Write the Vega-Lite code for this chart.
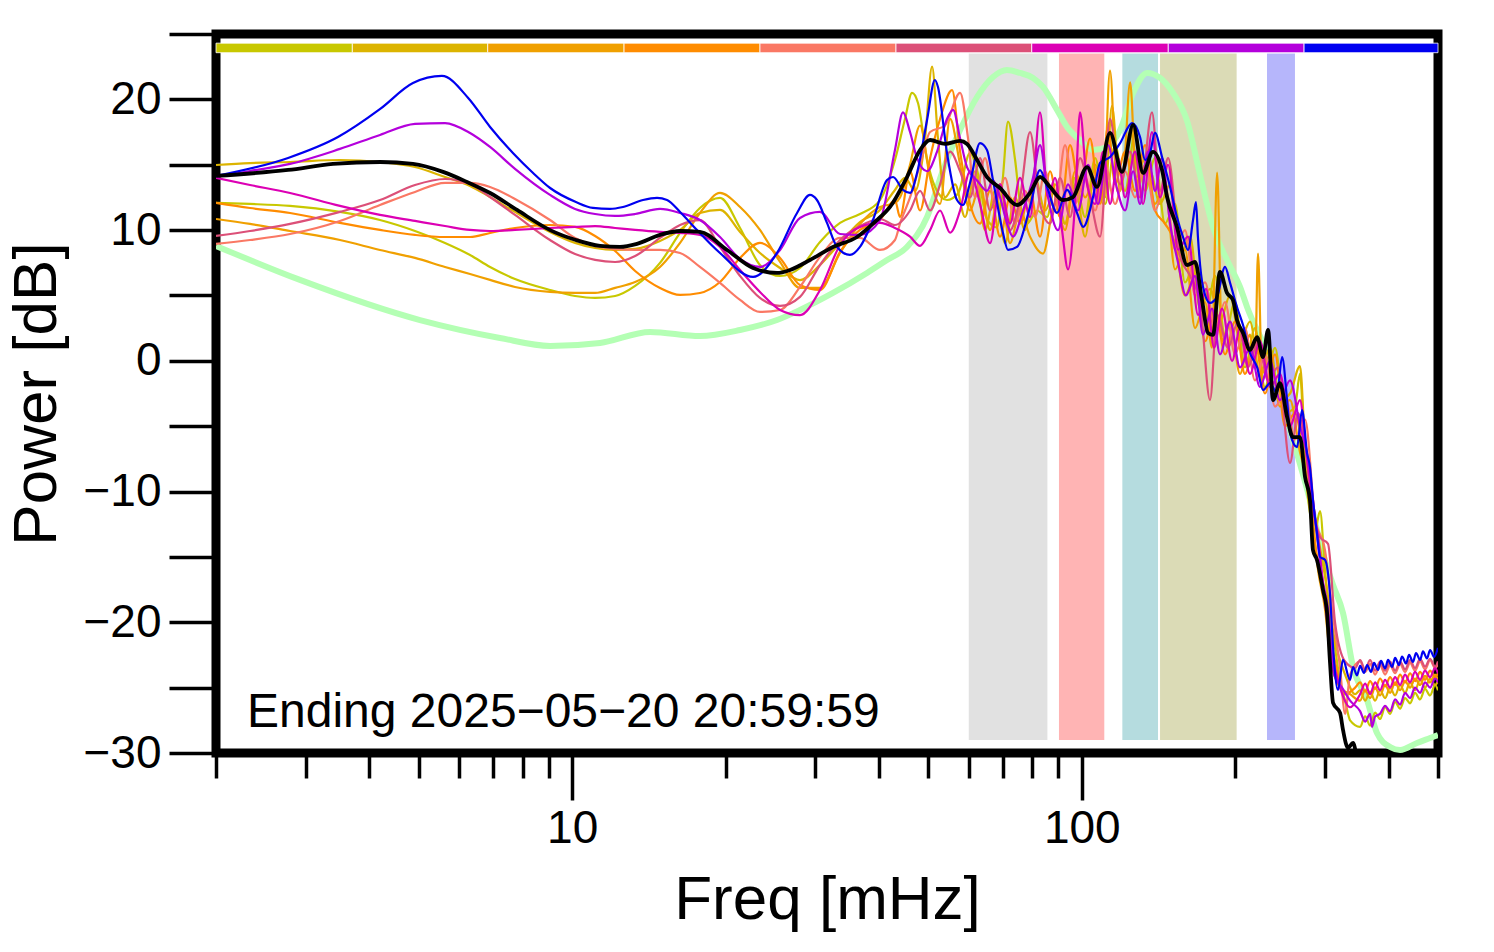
{
"$schema":"https://vega.github.io/schema/vega-lite/v6.json",
"width":1222,"height":719,
"autosize":{"type":"none"},
"padding":{"left":216,"top":34,"right":56,"bottom":199},
"background":"white",
"config":{
"view":{"stroke":"black","strokeWidth":9},
"font":"Liberation Sans",
"axis":{"labelFont":"Liberation Sans","titleFont":"Liberation Sans","labelColor":"black","titleColor":"black","tickColor":"black","titleFontWeight":"normal","grid":false,"domain":false,"tickWidth":3.5,"labelFontSize":46,"titleFontSize":62}
},
"datasets":{
"bands":[{"band":"b1","f":60.0,"f2":85.6},{"band":"b2","f":90.2,"f2":110.7},{"band":"b3","f":120.1,"f2":141.1},{"band":"b4","f":142.4,"f2":201.3},{"band":"b5","f":230.9,"f2":262.0}],
"bar":[{"s":"c1","f":2,"f2":3.703},{"s":"c2","f":3.703,"f2":6.827},{"s":"c3","f":6.827,"f2":12.64},{"s":"c4","f":12.64,"f2":23.36},{"s":"c5","f":23.36,"f2":43.19},{"s":"c6","f":43.19,"f2":79.76},{"s":"c7","f":79.76,"f2":147.8},{"s":"c8","f":147.8,"f2":273.0},{"s":"c9","f":273.0,"f2":500}],
"ref":[{"f":2.0,"p":8.79},{"f":2.923,"p":6.19},{"f":5.028,"p":3.12},{"f":7.216,"p":1.75},{"f":9.05,"p":1.14},{"f":11.34,"p":1.37},{"f":14.22,"p":2.21},{"f":17.81,"p":1.9},{"f":21.35,"p":2.36},{"f":25.23,"p":3.12},{"f":27.99,"p":3.89},{"f":32.49,"p":5.19},{"f":37.89,"p":6.72},{"f":41.48,"p":7.71},{"f":45.39,"p":8.71},{"f":49.7,"p":11.0},{"f":53.42,"p":14.6},{"f":57.7,"p":17.66},{"f":62.3,"p":20.18},{"f":66.94,"p":21.71},{"f":71.31,"p":22.25},{"f":75.65,"p":22.02},{"f":80.22,"p":21.64},{"f":83.94,"p":20.95},{"f":89.42,"p":19.19},{"f":93.54,"p":17.89},{"f":99.21,"p":16.89},{"f":105.2,"p":16.13},{"f":112.1,"p":16.36},{"f":118.9,"p":17.66},{"f":126.1,"p":20.49},{"f":134.3,"p":22.02},{"f":142.4,"p":21.64},{"f":151.0,"p":20.49},{"f":160.9,"p":18.35},{"f":170.6,"p":14.22},{"f":180.9,"p":10.24},{"f":192.7,"p":7.71},{"f":204.4,"p":5.66},{"f":211.0,"p":4.12},{"f":234.0,"p":0.06},{"f":256.2,"p":-5.29},{"f":280.4,"p":-10.66},{"f":296.0,"p":-14.48},{"f":311.2,"p":-17.15},{"f":325.5,"p":-19.29},{"f":340.6,"p":-23.42},{"f":362.9,"p":-25.94},{"f":379.5,"p":-28.47},{"f":402.7,"p":-29.54},{"f":421.3,"p":-29.77},{"f":454.7,"p":-29.23},{"f":482.4,"p":-28.85},{"f":500,"p":-28.62}],
"mean":[{"f":2.0,"p":14.14},{"f":2.77,"p":14.6},{"f":3.393,"p":15.06},{"f":4.2,"p":15.21},{"f":4.87,"p":15.06},{"f":5.578,"p":14.45},{"f":6.218,"p":13.68},{"f":6.9,"p":12.84},{"f":7.793,"p":11.54},{"f":9.05,"p":10.0},{"f":10.17,"p":9.24},{"f":11.34,"p":8.79},{"f":12.41,"p":8.71},{"f":13.4,"p":8.94},{"f":14.87,"p":9.63},{"f":16.28,"p":9.93},{"f":17.81,"p":9.86},{"f":20.13,"p":8.48},{"f":22.64,"p":7.1},{"f":25.23,"p":6.72},{"f":26.76,"p":6.95},{"f":29.28,"p":7.71},{"f":32.49,"p":8.71},{"f":36.22,"p":9.47},{"f":39.65,"p":10.77},{"f":42.04,"p":11.77},{"f":45.39,"p":14.06},{"f":48.15,"p":16.13},{"f":50.38,"p":16.89},{"f":53.91,"p":16.59},{"f":57.7,"p":16.82},{"f":59.54,"p":16.59},{"f":62.3,"p":15.36},{"f":65.16,"p":14.06},{"f":69.11,"p":13.22},{"f":74.62,"p":11.92},{"f":79.14,"p":12.84},{"f":82.8,"p":14.06},{"f":86.62,"p":13.3},{"f":91.86,"p":12.3},{"f":96.12,"p":12.53},{"f":102.4,"p":14.82},{"f":107.1,"p":13.3},{"f":113.6,"p":17.43},{"f":119.9,"p":14.45},{"f":126.1,"p":18.04},{"f":131.9,"p":14.37},{"f":137.9,"p":15.98},{"f":143.7,"p":14.59},{"f":147.0,"p":12.53},{"f":153.7,"p":10.24},{"f":160.9,"p":7.33},{"f":166.8,"p":7.56},{"f":172.1,"p":4.66},{"f":176.9,"p":2.13},{"f":180.9,"p":1.98},{"f":186.7,"p":6.8},{"f":192.7,"p":5.19},{"f":198.0,"p":4.66},{"f":201.6,"p":3.12},{"f":207.2,"p":2.13},{"f":213.8,"p":0.83},{"f":220.8,"p":1.82},{"f":226.8,"p":0.29},{"f":232.0,"p":2.36},{"f":237.3,"p":-3.0},{"f":244.8,"p":-1.71},{"f":252.8,"p":-4.3},{"f":259.6,"p":-5.83},{"f":268.0,"p":-5.83},{"f":274.2,"p":-8.89},{"f":280.4,"p":-10.66},{"f":284.2,"p":-14.48},{"f":289.4,"p":-15.23},{"f":297.4,"p":-17.53},{"f":302.9,"p":-19.29},{"f":307.0,"p":-23.11},{"f":311.2,"p":-26.17},{"f":321.2,"p":-26.94},{"f":325.5,"p":-28.24},{"f":332.9,"p":-29.61},{"f":340.6,"p":-29.23},{"f":346.8,"p":-30.53},{"f":354.8,"p":-33.6}],
"lines":[
{"s":"c1","f":2.0,"p":12.08},{"s":"c1","f":2.332,"p":12.0},{"s":"c1","f":2.795,"p":11.85},{"s":"c1","f":3.502,"p":11.39},{"s":"c1","f":4.196,"p":10.77},{"s":"c1","f":4.915,"p":9.93},{"s":"c1","f":5.629,"p":9.02},{"s":"c1","f":6.303,"p":8.1},{"s":"c1","f":6.899,"p":7.18},{"s":"c1","f":7.723,"p":6.26},{"s":"c1","f":9.046,"p":5.42},{"s":"c1","f":10.13,"p":4.96},{"s":"c1","f":11.09,"p":4.81},{"s":"c1","f":12.14,"p":4.96},{"s":"c1","f":13.29,"p":5.73},{"s":"c1","f":14.87,"p":7.49},{"s":"c1","f":16.28,"p":9.78},{"s":"c1","f":17.81,"p":11.69},{"s":"c1","f":19.5,"p":12.46},{"s":"c1","f":21.35,"p":10.16},{"s":"c1","f":23.36,"p":7.33},{"s":"c1","f":25.58,"p":6.49},{"s":"c1","f":27.99,"p":7.1},{"s":"c1","f":30.64,"p":9.09},{"s":"c1","f":33.54,"p":10.55},{"s":"c1","f":36.7,"p":11.23},{"s":"c1","f":40.18,"p":12.3},{"s":"c1","f":42.99,"p":15.36},{"s":"c1","f":44.98,"p":18.5},{"s":"c1","f":46.44,"p":20.5},{"s":"c1","f":47.72,"p":19.7},{"s":"c1","f":49.7,"p":15.4},{"s":"c1","f":51.52,"p":13.3},{"s":"c1","f":54.38,"p":12.3},{"s":"c1","f":57.17,"p":12.8},{"s":"c1","f":60.35,"p":15.9},{"s":"c1","f":62.3,"p":14.6},{"s":"c1","f":65.16,"p":10.8},{"s":"c1","f":68.17,"p":10.2},{"s":"c1","f":70.04,"p":14.1},{"s":"c1","f":71.64,"p":18.3},{"s":"c1","f":73.96,"p":15.4},{"s":"c1","f":75.65,"p":12.1},{"s":"c1","f":78.09,"p":10.5},{"s":"c1","f":81.69,"p":11.5},{"s":"c1","f":85.46,"p":11.0},{"s":"c1","f":88.61,"p":13.5},{"s":"c1","f":92.7,"p":10.5},{"s":"c1","f":96.99,"p":14.0},{"s":"c1","f":101.5,"p":11.0},{"s":"c1","f":106.2,"p":15.5},{"s":"c1","f":111.1,"p":12.0},{"s":"c1","f":116.2,"p":16.5},{"s":"c1","f":121.6,"p":13.0},{"s":"c1","f":127.2,"p":17.5},{"s":"c1","f":133.1,"p":13.0},{"s":"c1","f":139.2,"p":15.5},{"s":"c1","f":145.6,"p":10.5},{"s":"c1","f":152.4,"p":12.0},{"s":"c1","f":159.4,"p":6.0},{"s":"c1","f":166.8,"p":7.5},{"s":"c1","f":174.5,"p":3.0},{"s":"c1","f":182.6,"p":6.5},{"s":"c1","f":191.0,"p":2.0},{"s":"c1","f":199.8,"p":4.5},{"s":"c1","f":209.0,"p":-0.5},{"s":"c1","f":218.7,"p":2.5},{"s":"c1","f":228.8,"p":-2.0},{"s":"c1","f":239.4,"p":1.0},{"s":"c1","f":250.4,"p":-4.0},{"s":"c1","f":262.0,"p":-3.5},{"s":"c1","f":268.0,"p":-1.0},{"s":"c1","f":274.2,"p":-8.0},{"s":"c1","f":286.8,"p":-13.0},{"s":"c1","f":293.4,"p":-11.5},{"s":"c1","f":300.1,"p":-16.0},{"s":"c1","f":307.0,"p":-20.0},{"s":"c1","f":314.0,"p":-22.0},{"s":"c1","f":321.2,"p":-24.5},{"s":"c1","f":328.6,"p":-26.0},{"s":"c1","f":336.1,"p":-27.5},{"s":"c1","f":351.6,"p":-28.0},{"s":"c1","f":359.7,"p":-27.2},{"s":"c1","f":367.9,"p":-27.9},{"s":"c1","f":376.3,"p":-26.9},{"s":"c1","f":384.9,"p":-27.4},{"s":"c1","f":393.7,"p":-26.5},{"s":"c1","f":402.7,"p":-27.0},{"s":"c1","f":411.9,"p":-26.1},{"s":"c1","f":421.3,"p":-26.6},{"s":"c1","f":430.9,"p":-25.8},{"s":"c1","f":440.7,"p":-26.2},{"s":"c1","f":450.8,"p":-25.4},{"s":"c1","f":461.1,"p":-25.9},{"s":"c1","f":471.6,"p":-25.1},{"s":"c1","f":482.4,"p":-25.6},{"s":"c1","f":493.4,"p":-24.8},{"s":"c1","f":500,"p":-25.2},
{"s":"c2","f":2.0,"p":14.98},{"s":"c2","f":2.332,"p":15.13},{"s":"c2","f":2.795,"p":15.21},{"s":"c2","f":3.502,"p":15.36},{"s":"c2","f":4.196,"p":15.21},{"s":"c2","f":4.915,"p":14.83},{"s":"c2","f":5.629,"p":14.06},{"s":"c2","f":6.303,"p":13.38},{"s":"c2","f":6.899,"p":12.53},{"s":"c2","f":7.723,"p":11.39},{"s":"c2","f":9.046,"p":9.86},{"s":"c2","f":10.13,"p":9.02},{"s":"c2","f":11.09,"p":8.63},{"s":"c2","f":12.14,"p":8.48},{"s":"c2","f":13.29,"p":8.56},{"s":"c2","f":14.87,"p":9.17},{"s":"c2","f":16.28,"p":10.01},{"s":"c2","f":17.81,"p":11.31},{"s":"c2","f":19.5,"p":11.54},{"s":"c2","f":21.35,"p":9.86},{"s":"c2","f":23.36,"p":8.25},{"s":"c2","f":25.58,"p":7.1},{"s":"c2","f":27.99,"p":6.18},{"s":"c2","f":30.64,"p":7.33},{"s":"c2","f":33.54,"p":9.02},{"s":"c2","f":36.7,"p":10.62},{"s":"c2","f":40.18,"p":11.54},{"s":"c2","f":42.99,"p":13.07},{"s":"c2","f":44.98,"p":14.0},{"s":"c2","f":47.07,"p":13.0},{"s":"c2","f":49.25,"p":17.0},{"s":"c2","f":50.84,"p":22.5},{"s":"c2","f":52.21,"p":17.0},{"s":"c2","f":53.91,"p":12.5},{"s":"c2","f":56.41,"p":13.5},{"s":"c2","f":59.01,"p":11.0},{"s":"c2","f":61.73,"p":14.5},{"s":"c2","f":64.58,"p":10.0},{"s":"c2","f":67.57,"p":13.0},{"s":"c2","f":70.69,"p":9.0},{"s":"c2","f":73.96,"p":12.5},{"s":"c2","f":77.38,"p":10.0},{"s":"c2","f":80.95,"p":14.0},{"s":"c2","f":84.7,"p":11.5},{"s":"c2","f":88.61,"p":13.0},{"s":"c2","f":92.7,"p":10.5},{"s":"c2","f":96.99,"p":13.5},{"s":"c2","f":101.5,"p":9.5},{"s":"c2","f":106.2,"p":15.0},{"s":"c2","f":111.1,"p":12.5},{"s":"c2","f":114.6,"p":19.5},{"s":"c2","f":118.9,"p":13.0},{"s":"c2","f":124.4,"p":17.5},{"s":"c2","f":130.1,"p":14.0},{"s":"c2","f":136.1,"p":14.5},{"s":"c2","f":142.4,"p":12.0},{"s":"c2","f":149.0,"p":13.5},{"s":"c2","f":155.9,"p":8.0},{"s":"c2","f":163.1,"p":9.5},{"s":"c2","f":170.6,"p":4.0},{"s":"c2","f":178.5,"p":5.5},{"s":"c2","f":186.7,"p":3.0},{"s":"c2","f":195.4,"p":5.0},{"s":"c2","f":204.4,"p":1.5},{"s":"c2","f":213.8,"p":3.0},{"s":"c2","f":223.7,"p":-1.0},{"s":"c2","f":234.0,"p":1.0},{"s":"c2","f":244.8,"p":-3.0},{"s":"c2","f":256.2,"p":-2.5},{"s":"c2","f":268.0,"p":-0.4},{"s":"c2","f":274.2,"p":-6.5},{"s":"c2","f":286.8,"p":-12.0},{"s":"c2","f":300.1,"p":-16.5},{"s":"c2","f":314.0,"p":-21.5},{"s":"c2","f":328.6,"p":-24.0},{"s":"c2","f":343.8,"p":-25.5},{"s":"c2","f":351.6,"p":-25.2},{"s":"c2","f":359.7,"p":-26.0},{"s":"c2","f":367.9,"p":-25.3},{"s":"c2","f":376.3,"p":-26.0},{"s":"c2","f":384.9,"p":-25.2},{"s":"c2","f":393.7,"p":-25.8},{"s":"c2","f":402.7,"p":-25.0},{"s":"c2","f":411.9,"p":-25.6},{"s":"c2","f":421.3,"p":-24.8},{"s":"c2","f":430.9,"p":-25.4},{"s":"c2","f":440.7,"p":-24.6},{"s":"c2","f":450.8,"p":-25.2},{"s":"c2","f":461.1,"p":-24.4},{"s":"c2","f":471.6,"p":-25.0},{"s":"c2","f":482.4,"p":-24.3},{"s":"c2","f":493.4,"p":-24.8},{"s":"c2","f":500,"p":-24.5},
{"s":"c3","f":2.0,"p":10.85},{"s":"c3","f":2.332,"p":10.47},{"s":"c3","f":2.795,"p":9.93},{"s":"c3","f":3.502,"p":9.24},{"s":"c3","f":4.196,"p":8.48},{"s":"c3","f":4.915,"p":7.87},{"s":"c3","f":5.629,"p":7.18},{"s":"c3","f":6.303,"p":6.64},{"s":"c3","f":6.899,"p":6.19},{"s":"c3","f":7.723,"p":5.65},{"s":"c3","f":9.046,"p":5.27},{"s":"c3","f":10.13,"p":5.19},{"s":"c3","f":11.09,"p":5.19},{"s":"c3","f":12.14,"p":5.58},{"s":"c3","f":13.29,"p":6.03},{"s":"c3","f":14.87,"p":7.18},{"s":"c3","f":16.28,"p":9.02},{"s":"c3","f":17.81,"p":11.31},{"s":"c3","f":19.5,"p":12.84},{"s":"c3","f":21.35,"p":11.77},{"s":"c3","f":23.36,"p":10.01},{"s":"c3","f":25.58,"p":7.56},{"s":"c3","f":27.99,"p":5.58},{"s":"c3","f":30.64,"p":5.58},{"s":"c3","f":33.54,"p":8.25},{"s":"c3","f":36.7,"p":10.47},{"s":"c3","f":40.18,"p":11.77},{"s":"c3","f":42.99,"p":12.08},{"s":"c3","f":43.98,"p":12.5},{"s":"c3","f":46.02,"p":15.0},{"s":"c3","f":48.15,"p":18.0},{"s":"c3","f":50.38,"p":14.0},{"s":"c3","f":52.7,"p":12.0},{"s":"c3","f":55.15,"p":18.5},{"s":"c3","f":57.7,"p":15.0},{"s":"c3","f":60.35,"p":11.5},{"s":"c3","f":63.14,"p":13.5},{"s":"c3","f":66.06,"p":10.0},{"s":"c3","f":69.11,"p":13.5},{"s":"c3","f":72.3,"p":9.0},{"s":"c3","f":75.65,"p":11.5},{"s":"c3","f":79.14,"p":9.5},{"s":"c3","f":83.94,"p":8.2},{"s":"c3","f":88.61,"p":12.0},{"s":"c3","f":92.7,"p":10.0},{"s":"c3","f":96.99,"p":14.5},{"s":"c3","f":101.5,"p":12.5},{"s":"c3","f":106.2,"p":14.0},{"s":"c3","f":110.1,"p":12.0},{"s":"c3","f":113.6,"p":22.2},{"s":"c3","f":117.3,"p":13.0},{"s":"c3","f":121.1,"p":15.0},{"s":"c3","f":124.4,"p":21.3},{"s":"c3","f":127.8,"p":14.0},{"s":"c3","f":133.1,"p":15.5},{"s":"c3","f":139.2,"p":12.0},{"s":"c3","f":145.6,"p":13.5},{"s":"c3","f":152.4,"p":7.0},{"s":"c3","f":159.4,"p":8.5},{"s":"c3","f":166.8,"p":2.5},{"s":"c3","f":174.5,"p":4.5},{"s":"c3","f":180.1,"p":1.0},{"s":"c3","f":184.3,"p":14.4},{"s":"c3","f":188.4,"p":1.5},{"s":"c3","f":195.4,"p":3.0},{"s":"c3","f":204.4,"p":-1.0},{"s":"c3","f":213.8,"p":2.0},{"s":"c3","f":218.7,"p":-0.5},{"s":"c3","f":221.7,"p":8.2},{"s":"c3","f":225.7,"p":-1.0},{"s":"c3","f":234.0,"p":0.5},{"s":"c3","f":244.8,"p":-3.5},{"s":"c3","f":256.2,"p":-3.0},{"s":"c3","f":268.0,"p":-7.0},{"s":"c3","f":280.4,"p":-10.0},{"s":"c3","f":290.8,"p":-16.0},{"s":"c3","f":300.1,"p":-19.0},{"s":"c3","f":307.0,"p":-22.5},{"s":"c3","f":321.2,"p":-25.0},{"s":"c3","f":336.1,"p":-25.5},{"s":"c3","f":351.6,"p":-26.0},{"s":"c3","f":359.7,"p":-25.2},{"s":"c3","f":367.9,"p":-25.8},{"s":"c3","f":376.3,"p":-25.0},{"s":"c3","f":384.9,"p":-25.6},{"s":"c3","f":393.7,"p":-24.8},{"s":"c3","f":402.7,"p":-25.4},{"s":"c3","f":411.9,"p":-24.6},{"s":"c3","f":421.3,"p":-25.2},{"s":"c3","f":430.9,"p":-24.5},{"s":"c3","f":440.7,"p":-25.0},{"s":"c3","f":450.8,"p":-24.3},{"s":"c3","f":461.1,"p":-24.8},{"s":"c3","f":471.6,"p":-24.1},{"s":"c3","f":482.4,"p":-24.6},{"s":"c3","f":493.4,"p":-24.0},{"s":"c3","f":500,"p":-24.4},
{"s":"c4","f":2.0,"p":12.08},{"s":"c4","f":2.332,"p":11.69},{"s":"c4","f":2.795,"p":11.31},{"s":"c4","f":3.502,"p":10.55},{"s":"c4","f":4.196,"p":10.01},{"s":"c4","f":4.915,"p":9.63},{"s":"c4","f":5.629,"p":9.47},{"s":"c4","f":6.303,"p":9.47},{"s":"c4","f":6.899,"p":9.78},{"s":"c4","f":7.723,"p":10.16},{"s":"c4","f":9.046,"p":10.39},{"s":"c4","f":10.13,"p":10.24},{"s":"c4","f":11.09,"p":9.55},{"s":"c4","f":12.14,"p":8.4},{"s":"c4","f":13.29,"p":6.87},{"s":"c4","f":14.87,"p":5.57},{"s":"c4","f":16.28,"p":5.04},{"s":"c4","f":17.81,"p":5.19},{"s":"c4","f":19.5,"p":6.03},{"s":"c4","f":21.35,"p":7.87},{"s":"c4","f":23.36,"p":9.02},{"s":"c4","f":25.58,"p":7.87},{"s":"c4","f":27.99,"p":5.8},{"s":"c4","f":30.64,"p":5.42},{"s":"c4","f":33.54,"p":8.33},{"s":"c4","f":36.7,"p":10.01},{"s":"c4","f":40.18,"p":10.77},{"s":"c4","f":42.99,"p":12.3},{"s":"c4","f":43.98,"p":11.0},{"s":"c4","f":46.02,"p":14.5},{"s":"c4","f":48.15,"p":11.5},{"s":"c4","f":50.38,"p":15.5},{"s":"c4","f":52.7,"p":18.5},{"s":"c4","f":55.65,"p":20.7},{"s":"c4","f":57.7,"p":16.0},{"s":"c4","f":60.35,"p":12.0},{"s":"c4","f":63.14,"p":10.5},{"s":"c4","f":66.06,"p":13.0},{"s":"c4","f":69.11,"p":9.5},{"s":"c4","f":72.3,"p":12.5},{"s":"c4","f":75.65,"p":10.5},{"s":"c4","f":79.14,"p":13.0},{"s":"c4","f":82.8,"p":9.5},{"s":"c4","f":86.62,"p":14.5},{"s":"c4","f":90.63,"p":11.0},{"s":"c4","f":94.82,"p":16.5},{"s":"c4","f":99.21,"p":13.0},{"s":"c4","f":103.8,"p":17.0},{"s":"c4","f":108.6,"p":12.0},{"s":"c4","f":112.6,"p":18.0},{"s":"c4","f":116.2,"p":13.5},{"s":"c4","f":121.6,"p":16.0},{"s":"c4","f":127.2,"p":13.0},{"s":"c4","f":133.1,"p":16.5},{"s":"c4","f":139.2,"p":11.5},{"s":"c4","f":145.6,"p":10.5},{"s":"c4","f":152.4,"p":9.0},{"s":"c4","f":159.4,"p":5.0},{"s":"c4","f":166.8,"p":6.5},{"s":"c4","f":174.5,"p":1.5},{"s":"c4","f":182.6,"p":4.0},{"s":"c4","f":191.0,"p":0.5},{"s":"c4","f":199.8,"p":3.0},{"s":"c4","f":209.0,"p":-1.0},{"s":"c4","f":218.7,"p":1.5},{"s":"c4","f":228.8,"p":-2.5},{"s":"c4","f":239.4,"p":0.5},{"s":"c4","f":250.4,"p":-5.0},{"s":"c4","f":262.0,"p":-4.0},{"s":"c4","f":274.2,"p":-8.5},{"s":"c4","f":286.8,"p":-14.0},{"s":"c4","f":300.1,"p":-18.5},{"s":"c4","f":314.0,"p":-23.0},{"s":"c4","f":328.6,"p":-25.5},{"s":"c4","f":343.8,"p":-25.0},{"s":"c4","f":351.6,"p":-24.6},{"s":"c4","f":359.7,"p":-25.3},{"s":"c4","f":367.9,"p":-24.5},{"s":"c4","f":376.3,"p":-25.1},{"s":"c4","f":384.9,"p":-24.3},{"s":"c4","f":393.7,"p":-24.9},{"s":"c4","f":402.7,"p":-24.2},{"s":"c4","f":411.9,"p":-24.8},{"s":"c4","f":421.3,"p":-24.0},{"s":"c4","f":430.9,"p":-24.6},{"s":"c4","f":440.7,"p":-23.9},{"s":"c4","f":450.8,"p":-24.5},{"s":"c4","f":461.1,"p":-23.8},{"s":"c4","f":471.6,"p":-24.4},{"s":"c4","f":482.4,"p":-23.7},{"s":"c4","f":493.4,"p":-24.2},{"s":"c4","f":500,"p":-23.9},
{"s":"c5","f":2.0,"p":8.94},{"s":"c5","f":2.332,"p":9.24},{"s":"c5","f":2.795,"p":9.7},{"s":"c5","f":3.502,"p":10.7},{"s":"c5","f":4.196,"p":11.92},{"s":"c5","f":4.915,"p":12.92},{"s":"c5","f":5.629,"p":13.61},{"s":"c5","f":6.303,"p":13.61},{"s":"c5","f":6.899,"p":13.3},{"s":"c5","f":7.723,"p":12.38},{"s":"c5","f":9.046,"p":10.77},{"s":"c5","f":10.13,"p":9.4},{"s":"c5","f":11.09,"p":8.79},{"s":"c5","f":12.14,"p":8.56},{"s":"c5","f":13.29,"p":8.48},{"s":"c5","f":14.87,"p":8.48},{"s":"c5","f":16.28,"p":8.25},{"s":"c5","f":17.81,"p":7.18},{"s":"c5","f":19.5,"p":5.96},{"s":"c5","f":21.35,"p":4.66},{"s":"c5","f":23.36,"p":3.74},{"s":"c5","f":25.58,"p":3.89},{"s":"c5","f":27.99,"p":5.65},{"s":"c5","f":30.64,"p":7.95},{"s":"c5","f":33.54,"p":9.4},{"s":"c5","f":36.7,"p":9.4},{"s":"c5","f":40.18,"p":8.48},{"s":"c5","f":42.99,"p":9.24},{"s":"c5","f":43.98,"p":10.5},{"s":"c5","f":46.02,"p":12.5},{"s":"c5","f":48.15,"p":15.0},{"s":"c5","f":50.38,"p":17.5},{"s":"c5","f":53.91,"p":18.0},{"s":"c5","f":57.7,"p":20.5},{"s":"c5","f":59.82,"p":17.0},{"s":"c5","f":61.73,"p":12.5},{"s":"c5","f":64.58,"p":15.5},{"s":"c5","f":67.57,"p":12.0},{"s":"c5","f":70.69,"p":14.0},{"s":"c5","f":73.96,"p":10.5},{"s":"c5","f":77.38,"p":13.0},{"s":"c5","f":80.95,"p":11.0},{"s":"c5","f":84.7,"p":14.5},{"s":"c5","f":88.61,"p":11.5},{"s":"c5","f":92.7,"p":16.5},{"s":"c5","f":96.99,"p":12.0},{"s":"c5","f":101.5,"p":14.0},{"s":"c5","f":106.2,"p":11.5},{"s":"c5","f":111.1,"p":15.0},{"s":"c5","f":116.2,"p":12.0},{"s":"c5","f":121.6,"p":14.5},{"s":"c5","f":127.2,"p":12.5},{"s":"c5","f":133.1,"p":15.0},{"s":"c5","f":139.2,"p":11.5},{"s":"c5","f":145.6,"p":13.5},{"s":"c5","f":152.4,"p":8.5},{"s":"c5","f":159.4,"p":10.0},{"s":"c5","f":166.8,"p":5.0},{"s":"c5","f":174.5,"p":6.0},{"s":"c5","f":182.6,"p":2.5},{"s":"c5","f":191.0,"p":4.5},{"s":"c5","f":199.8,"p":0.5},{"s":"c5","f":209.0,"p":2.5},{"s":"c5","f":218.7,"p":-1.5},{"s":"c5","f":228.8,"p":0.5},{"s":"c5","f":239.4,"p":-3.5},{"s":"c5","f":250.4,"p":-2.5},{"s":"c5","f":262.0,"p":-6.0},{"s":"c5","f":274.2,"p":-4.5},{"s":"c5","f":286.8,"p":-12.0},{"s":"c5","f":300.1,"p":-14.5},{"s":"c5","f":309.8,"p":-19.0},{"s":"c5","f":321.2,"p":-23.5},{"s":"c5","f":328.6,"p":-27.0},{"s":"c5","f":336.1,"p":-24.0},{"s":"c5","f":351.6,"p":-23.0},{"s":"c5","f":359.7,"p":-23.8},{"s":"c5","f":367.9,"p":-23.2},{"s":"c5","f":376.3,"p":-24.0},{"s":"c5","f":384.9,"p":-23.3},{"s":"c5","f":393.7,"p":-24.0},{"s":"c5","f":402.7,"p":-23.3},{"s":"c5","f":411.9,"p":-23.9},{"s":"c5","f":421.3,"p":-23.2},{"s":"c5","f":430.9,"p":-23.8},{"s":"c5","f":440.7,"p":-23.1},{"s":"c5","f":450.8,"p":-23.7},{"s":"c5","f":461.1,"p":-23.0},{"s":"c5","f":471.6,"p":-23.6},{"s":"c5","f":482.4,"p":-22.9},{"s":"c5","f":493.4,"p":-23.5},{"s":"c5","f":500,"p":-23.2},
{"s":"c6","f":2.0,"p":9.55},{"s":"c6","f":2.332,"p":9.93},{"s":"c6","f":2.795,"p":10.47},{"s":"c6","f":3.502,"p":11.39},{"s":"c6","f":4.196,"p":12.3},{"s":"c6","f":4.915,"p":13.45},{"s":"c6","f":5.629,"p":13.91},{"s":"c6","f":6.303,"p":13.53},{"s":"c6","f":6.899,"p":12.53},{"s":"c6","f":7.723,"p":11.16},{"s":"c6","f":9.046,"p":9.24},{"s":"c6","f":10.13,"p":8.17},{"s":"c6","f":11.09,"p":7.72},{"s":"c6","f":12.14,"p":7.56},{"s":"c6","f":13.29,"p":8.02},{"s":"c6","f":14.87,"p":9.4},{"s":"c6","f":16.28,"p":10.39},{"s":"c6","f":17.81,"p":10.77},{"s":"c6","f":19.5,"p":8.71},{"s":"c6","f":21.35,"p":6.49},{"s":"c6","f":23.36,"p":4.81},{"s":"c6","f":25.58,"p":4.2},{"s":"c6","f":27.99,"p":4.89},{"s":"c6","f":30.64,"p":7.33},{"s":"c6","f":33.54,"p":9.24},{"s":"c6","f":36.7,"p":10.31},{"s":"c6","f":40.18,"p":10.85},{"s":"c6","f":42.99,"p":10.39},{"s":"c6","f":46.02,"p":11.5},{"s":"c6","f":48.15,"p":13.0},{"s":"c6","f":50.38,"p":11.5},{"s":"c6","f":52.7,"p":13.5},{"s":"c6","f":55.15,"p":16.0},{"s":"c6","f":57.7,"p":14.5},{"s":"c6","f":60.35,"p":12.5},{"s":"c6","f":63.14,"p":15.5},{"s":"c6","f":66.06,"p":11.5},{"s":"c6","f":69.11,"p":13.5},{"s":"c6","f":72.3,"p":10.0},{"s":"c6","f":75.65,"p":12.5},{"s":"c6","f":79.14,"p":17.5},{"s":"c6","f":82.8,"p":12.0},{"s":"c6","f":86.62,"p":10.5},{"s":"c6","f":90.63,"p":14.0},{"s":"c6","f":94.82,"p":11.0},{"s":"c6","f":99.21,"p":15.5},{"s":"c6","f":103.8,"p":12.5},{"s":"c6","f":108.6,"p":9.5},{"s":"c6","f":113.6,"p":18.5},{"s":"c6","f":118.9,"p":13.5},{"s":"c6","f":124.4,"p":16.0},{"s":"c6","f":130.1,"p":12.5},{"s":"c6","f":137.3,"p":19.0},{"s":"c6","f":142.4,"p":13.0},{"s":"c6","f":147.7,"p":15.5},{"s":"c6","f":155.9,"p":8.0},{"s":"c6","f":163.1,"p":6.5},{"s":"c6","f":170.6,"p":4.5},{"s":"c6","f":178.5,"p":-3.0},{"s":"c6","f":184.3,"p":3.5},{"s":"c6","f":193.6,"p":1.0},{"s":"c6","f":202.6,"p":3.0},{"s":"c6","f":211.9,"p":-0.5},{"s":"c6","f":221.7,"p":1.5},{"s":"c6","f":231.9,"p":-1.5},{"s":"c6","f":242.6,"p":-0.5},{"s":"c6","f":256.2,"p":-7.8},{"s":"c6","f":265.6,"p":-4.0},{"s":"c6","f":274.2,"p":-6.5},{"s":"c6","f":282.9,"p":-11.0},{"s":"c6","f":293.4,"p":-13.5},{"s":"c6","f":304.2,"p":-14.0},{"s":"c6","f":314.0,"p":-20.0},{"s":"c6","f":328.6,"p":-23.0},{"s":"c6","f":343.8,"p":-23.5},{"s":"c6","f":351.6,"p":-22.9},{"s":"c6","f":359.7,"p":-23.6},{"s":"c6","f":367.9,"p":-22.9},{"s":"c6","f":376.3,"p":-23.7},{"s":"c6","f":384.9,"p":-23.0},{"s":"c6","f":393.7,"p":-23.7},{"s":"c6","f":402.7,"p":-23.0},{"s":"c6","f":411.9,"p":-23.7},{"s":"c6","f":421.3,"p":-23.0},{"s":"c6","f":430.9,"p":-23.6},{"s":"c6","f":440.7,"p":-22.9},{"s":"c6","f":450.8,"p":-23.5},{"s":"c6","f":461.1,"p":-22.8},{"s":"c6","f":471.6,"p":-23.4},{"s":"c6","f":482.4,"p":-22.8},{"s":"c6","f":493.4,"p":-23.4},{"s":"c6","f":500,"p":-23.0},
{"s":"c7","f":2.0,"p":13.99},{"s":"c7","f":2.332,"p":13.45},{"s":"c7","f":2.795,"p":12.84},{"s":"c7","f":3.502,"p":11.85},{"s":"c7","f":4.196,"p":11.16},{"s":"c7","f":4.915,"p":10.7},{"s":"c7","f":5.629,"p":10.31},{"s":"c7","f":6.303,"p":10.01},{"s":"c7","f":6.899,"p":9.93},{"s":"c7","f":7.723,"p":10.01},{"s":"c7","f":9.046,"p":10.16},{"s":"c7","f":10.13,"p":10.24},{"s":"c7","f":11.09,"p":10.31},{"s":"c7","f":12.14,"p":10.16},{"s":"c7","f":13.29,"p":10.01},{"s":"c7","f":14.87,"p":9.86},{"s":"c7","f":16.28,"p":9.78},{"s":"c7","f":17.81,"p":9.63},{"s":"c7","f":19.5,"p":8.71},{"s":"c7","f":21.35,"p":6.95},{"s":"c7","f":23.36,"p":5.27},{"s":"c7","f":25.58,"p":3.89},{"s":"c7","f":27.99,"p":3.5},{"s":"c7","f":30.64,"p":5.42},{"s":"c7","f":33.54,"p":8.86},{"s":"c7","f":36.7,"p":10.24},{"s":"c7","f":40.18,"p":10.55},{"s":"c7","f":42.99,"p":10.16},{"s":"c7","f":46.02,"p":9.5},{"s":"c7","f":48.15,"p":8.8},{"s":"c7","f":50.38,"p":10.0},{"s":"c7","f":52.7,"p":11.5},{"s":"c7","f":55.15,"p":9.8},{"s":"c7","f":57.7,"p":11.5},{"s":"c7","f":60.35,"p":14.5},{"s":"c7","f":63.14,"p":12.0},{"s":"c7","f":66.06,"p":9.0},{"s":"c7","f":69.11,"p":13.5},{"s":"c7","f":72.3,"p":10.5},{"s":"c7","f":75.65,"p":14.0},{"s":"c7","f":79.14,"p":11.0},{"s":"c7","f":82.8,"p":19.0},{"s":"c7","f":85.84,"p":12.5},{"s":"c7","f":88.61,"p":14.0},{"s":"c7","f":91.45,"p":10.0},{"s":"c7","f":93.97,"p":7.0},{"s":"c7","f":96.99,"p":12.0},{"s":"c7","f":99.21,"p":19.0},{"s":"c7","f":102.4,"p":13.5},{"s":"c7","f":106.2,"p":12.0},{"s":"c7","f":110.1,"p":16.0},{"s":"c7","f":113.6,"p":12.0},{"s":"c7","f":117.8,"p":15.5},{"s":"c7","f":121.6,"p":12.5},{"s":"c7","f":127.2,"p":16.0},{"s":"c7","f":131.9,"p":12.0},{"s":"c7","f":137.3,"p":17.5},{"s":"c7","f":142.4,"p":12.5},{"s":"c7","f":147.7,"p":15.0},{"s":"c7","f":154.5,"p":8.5},{"s":"c7","f":161.6,"p":9.5},{"s":"c7","f":169.1,"p":3.5},{"s":"c7","f":175.3,"p":5.5},{"s":"c7","f":181.8,"p":1.0},{"s":"c7","f":188.4,"p":4.0},{"s":"c7","f":197.2,"p":0.0},{"s":"c7","f":204.4,"p":2.5},{"s":"c7","f":213.8,"p":-1.0},{"s":"c7","f":223.7,"p":1.5},{"s":"c7","f":234.0,"p":-2.0},{"s":"c7","f":244.8,"p":-1.0},{"s":"c7","f":256.2,"p":-5.0},{"s":"c7","f":268.0,"p":-3.0},{"s":"c7","f":274.2,"p":-6.0},{"s":"c7","f":282.9,"p":-10.5},{"s":"c7","f":290.8,"p":-13.5},{"s":"c7","f":300.1,"p":-18.5},{"s":"c7","f":309.8,"p":-22.5},{"s":"c7","f":321.2,"p":-25.0},{"s":"c7","f":336.1,"p":-26.5},{"s":"c7","f":351.6,"p":-25.5},{"s":"c7","f":359.7,"p":-24.7},{"s":"c7","f":367.9,"p":-25.5},{"s":"c7","f":376.3,"p":-24.6},{"s":"c7","f":384.9,"p":-25.2},{"s":"c7","f":393.7,"p":-24.4},{"s":"c7","f":402.7,"p":-25.0},{"s":"c7","f":411.9,"p":-24.2},{"s":"c7","f":421.3,"p":-24.8},{"s":"c7","f":430.9,"p":-24.0},{"s":"c7","f":440.7,"p":-24.6},{"s":"c7","f":450.8,"p":-23.8},{"s":"c7","f":461.1,"p":-24.4},{"s":"c7","f":471.6,"p":-23.7},{"s":"c7","f":482.4,"p":-24.2},{"s":"c7","f":493.4,"p":-23.5},{"s":"c7","f":500,"p":-23.9},
{"s":"c8","f":2.0,"p":14.06},{"s":"c8","f":2.332,"p":14.52},{"s":"c8","f":2.795,"p":15.06},{"s":"c8","f":3.502,"p":16.21},{"s":"c8","f":4.196,"p":17.28},{"s":"c8","f":4.915,"p":18.12},{"s":"c8","f":5.629,"p":18.19},{"s":"c8","f":6.303,"p":17.43},{"s":"c8","f":6.899,"p":16.36},{"s":"c8","f":7.723,"p":14.68},{"s":"c8","f":9.046,"p":12.69},{"s":"c8","f":10.13,"p":11.62},{"s":"c8","f":11.09,"p":11.23},{"s":"c8","f":12.14,"p":11.08},{"s":"c8","f":13.29,"p":11.23},{"s":"c8","f":14.87,"p":11.62},{"s":"c8","f":16.28,"p":11.31},{"s":"c8","f":17.81,"p":10.77},{"s":"c8","f":19.5,"p":9.47},{"s":"c8","f":21.35,"p":7.79},{"s":"c8","f":23.36,"p":7.18},{"s":"c8","f":25.58,"p":8.48},{"s":"c8","f":27.99,"p":10.93},{"s":"c8","f":30.64,"p":11.39},{"s":"c8","f":33.54,"p":9.7},{"s":"c8","f":36.7,"p":9.63},{"s":"c8","f":40.18,"p":10.77},{"s":"c8","f":42.99,"p":16.13},{"s":"c8","f":44.58,"p":19.0},{"s":"c8","f":46.02,"p":17.5},{"s":"c8","f":47.5,"p":15.5},{"s":"c8","f":49.7,"p":14.5},{"s":"c8","f":51.99,"p":16.0},{"s":"c8","f":54.38,"p":18.5},{"s":"c8","f":55.9,"p":19.2},{"s":"c8","f":57.7,"p":17.0},{"s":"c8","f":59.55,"p":14.8},{"s":"c8","f":62.3,"p":13.8},{"s":"c8","f":65.16,"p":13.0},{"s":"c8","f":66.96,"p":13.8},{"s":"c8","f":69.11,"p":12.5},{"s":"c8","f":71.33,"p":10.5},{"s":"c8","f":73.29,"p":9.5},{"s":"c8","f":76.68,"p":11.5},{"s":"c8","f":80.22,"p":14.0},{"s":"c8","f":82.8,"p":16.5},{"s":"c8","f":85.84,"p":12.5},{"s":"c8","f":89.82,"p":10.0},{"s":"c8","f":93.97,"p":13.5},{"s":"c8","f":98.32,"p":11.5},{"s":"c8","f":102.9,"p":15.0},{"s":"c8","f":107.6,"p":12.0},{"s":"c8","f":112.6,"p":16.5},{"s":"c8","f":116.7,"p":13.5},{"s":"c8","f":121.6,"p":11.5},{"s":"c8","f":126.1,"p":14.5},{"s":"c8","f":130.1,"p":12.0},{"s":"c8","f":134.9,"p":16.0},{"s":"c8","f":139.2,"p":13.0},{"s":"c8","f":143.7,"p":15.5},{"s":"c8","f":149.0,"p":10.5},{"s":"c8","f":154.5,"p":7.5},{"s":"c8","f":160.1,"p":5.0},{"s":"c8","f":166.8,"p":6.5},{"s":"c8","f":172.9,"p":2.0},{"s":"c8","f":180.1,"p":4.0},{"s":"c8","f":186.7,"p":0.5},{"s":"c8","f":195.4,"p":3.0},{"s":"c8","f":204.4,"p":-0.5},{"s":"c8","f":213.8,"p":1.0},{"s":"c8","f":223.7,"p":-2.0},{"s":"c8","f":234.0,"p":0.0},{"s":"c8","f":244.8,"p":-3.0},{"s":"c8","f":256.2,"p":-1.5},{"s":"c8","f":268.0,"p":-5.0},{"s":"c8","f":277.9,"p":-7.5},{"s":"c8","f":286.8,"p":-12.0},{"s":"c8","f":296.1,"p":-16.5},{"s":"c8","f":304.2,"p":-19.0},{"s":"c8","f":312.6,"p":-24.0},{"s":"c8","f":324.1,"p":-25.0},{"s":"c8","f":336.1,"p":-26.0},{"s":"c8","f":351.6,"p":-26.8},{"s":"c8","f":359.7,"p":-27.6},{"s":"c8","f":367.9,"p":-27.0},{"s":"c8","f":371.2,"p":-28.0},{"s":"c8","f":376.3,"p":-27.2},{"s":"c8","f":384.9,"p":-27.0},{"s":"c8","f":393.7,"p":-26.4},{"s":"c8","f":402.7,"p":-26.8},{"s":"c8","f":411.9,"p":-25.9},{"s":"c8","f":421.3,"p":-26.3},{"s":"c8","f":430.9,"p":-25.4},{"s":"c8","f":440.7,"p":-25.8},{"s":"c8","f":450.8,"p":-25.0},{"s":"c8","f":461.1,"p":-25.4},{"s":"c8","f":471.6,"p":-24.6},{"s":"c8","f":482.4,"p":-25.0},{"s":"c8","f":493.4,"p":-24.3},{"s":"c8","f":500,"p":-24.6},
{"s":"c9","f":2.0,"p":14.14},{"s":"c9","f":2.77,"p":15.52},{"s":"c9","f":3.47,"p":17.12},{"s":"c9","f":4.2,"p":19.27},{"s":"c9","f":4.87,"p":21.25},{"s":"c9","f":5.55,"p":21.79},{"s":"c9","f":6.25,"p":20.11},{"s":"c9","f":6.9,"p":17.89},{"s":"c9","f":7.65,"p":15.9},{"s":"c9","f":8.38,"p":14.37},{"s":"c9","f":9.05,"p":13.22},{"s":"c9","f":10.17,"p":12.15},{"s":"c9","f":10.98,"p":11.7},{"s":"c9","f":11.86,"p":11.62},{"s":"c9","f":12.58,"p":11.77},{"s":"c9","f":13.77,"p":12.3},{"s":"c9","f":14.67,"p":12.46},{"s":"c9","f":15.35,"p":12.3},{"s":"c9","f":16.28,"p":11.39},{"s":"c9","f":17.58,"p":10.0},{"s":"c9","f":19.5,"p":8.25},{"s":"c9","f":22.64,"p":6.42},{"s":"c9","f":25.23,"p":8.25},{"s":"c9","f":27.62,"p":11.31},{"s":"c9","f":29.28,"p":12.69},{"s":"c9","f":30.22,"p":12.3},{"s":"c9","f":31.62,"p":10.55},{"s":"c9","f":33.09,"p":8.71},{"s":"c9","f":35.08,"p":8.1},{"s":"c9","f":36.7,"p":8.71},{"s":"c9","f":38.92,"p":10.77},{"s":"c9","f":41.48,"p":13.83},{"s":"c9","f":42.62,"p":14.06},{"s":"c9","f":44.58,"p":13.07},{"s":"c9","f":46.02,"p":12.84},{"s":"c9","f":47.5,"p":14.37},{"s":"c9","f":49.7,"p":18.42},{"s":"c9","f":51.5,"p":21.48},{"s":"c9","f":52.21,"p":20.95},{"s":"c9","f":54.38,"p":15.9},{"s":"c9","f":56.9,"p":12.3},{"s":"c9","f":58.46,"p":11.92},{"s":"c9","f":60.34,"p":13.6},{"s":"c9","f":63.14,"p":16.66},{"s":"c9","f":65.16,"p":16.13},{"s":"c9","f":66.94,"p":13.83},{"s":"c9","f":70.04,"p":9.78},{"s":"c9","f":71.64,"p":8.48},{"s":"c9","f":74.62,"p":8.71},{"s":"c9","f":79.14,"p":11.77},{"s":"c9","f":82.8,"p":14.59},{"s":"c9","f":85.46,"p":13.3},{"s":"c9","f":89.42,"p":11.31},{"s":"c9","f":93.54,"p":13.07},{"s":"c9","f":97.88,"p":11.31},{"s":"c9","f":100.6,"p":10.24},{"s":"c9","f":105.2,"p":12.53},{"s":"c9","f":108.6,"p":15.13},{"s":"c9","f":113.6,"p":15.59},{"s":"c9","f":118.9,"p":16.66},{"s":"c9","f":125.5,"p":18.19},{"s":"c9","f":130.1,"p":17.12},{"s":"c9","f":133.1,"p":15.36},{"s":"c9","f":136.1,"p":15.9},{"s":"c9","f":139.2,"p":17.43},{"s":"c9","f":143.7,"p":15.59},{"s":"c9","f":149.0,"p":13.3},{"s":"c9","f":153.7,"p":11.0},{"s":"c9","f":158.0,"p":9.47},{"s":"c9","f":161.6,"p":8.48},{"s":"c9","f":165.3,"p":10.77},{"s":"c9","f":167.5,"p":12.15},{"s":"c9","f":169.0,"p":9.47},{"s":"c9","f":172.9,"p":5.66},{"s":"c9","f":178.4,"p":4.43},{"s":"c9","f":184.2,"p":4.89},{"s":"c9","f":191.0,"p":7.18},{"s":"c9","f":195.4,"p":5.96},{"s":"c9","f":201.6,"p":4.12},{"s":"c9","f":207.2,"p":2.74},{"s":"c9","f":213.8,"p":0.6},{"s":"c9","f":220.8,"p":-0.48},{"s":"c9","f":226.8,"p":-2.24},{"s":"c9","f":234.1,"p":-1.71},{"s":"c9","f":241.6,"p":-2.47},{"s":"c9","f":247.2,"p":0.29},{"s":"c9","f":252.8,"p":-3.0},{"s":"c9","f":256.3,"p":-5.53},{"s":"c9","f":264.5,"p":-6.6},{"s":"c9","f":270.5,"p":-3.77},{"s":"c9","f":276.7,"p":-7.06},{"s":"c9","f":280.4,"p":-8.13},{"s":"c9","f":284.2,"p":-10.66},{"s":"c9","f":289.4,"p":-13.18},{"s":"c9","f":293.4,"p":-15.0},{"s":"c9","f":300.1,"p":-15.23},{"s":"c9","f":307.0,"p":-17.91},{"s":"c9","f":311.2,"p":-21.89},{"s":"c9","f":318.2,"p":-25.18},{"s":"c9","f":325.5,"p":-22.88},{"s":"c9","f":336.0,"p":-24.41},{"s":"c9","f":340.6,"p":-23.42},{"s":"c9","f":346.8,"p":-24.06},{"s":"c9","f":351.6,"p":-23.34},{"s":"c9","f":357.9,"p":-23.88},{"s":"c9","f":362.9,"p":-23.27},{"s":"c9","f":369.4,"p":-23.8},{"s":"c9","f":374.5,"p":-23.11},{"s":"c9","f":381.3,"p":-23.65},{"s":"c9","f":386.5,"p":-22.96},{"s":"c9","f":393.7,"p":-23.53},{"s":"c9","f":399.0,"p":-22.88},{"s":"c9","f":406.3,"p":-23.42},{"s":"c9","f":411.9,"p":-22.73},{"s":"c9","f":419.4,"p":-23.27},{"s":"c9","f":425.0,"p":-22.62},{"s":"c9","f":432.8,"p":-23.15},{"s":"c9","f":438.7,"p":-22.5},{"s":"c9","f":446.6,"p":-23.04},{"s":"c9","f":452.7,"p":-22.35},{"s":"c9","f":461.1,"p":-22.88},{"s":"c9","f":467.2,"p":-22.23},{"s":"c9","f":475.7,"p":-22.77},{"s":"c9","f":482.4,"p":-22.12},{"s":"c9","f":491.2,"p":-22.65},{"s":"c9","f":500,"p":-21.96}
]
},
"layer":[
{"data":{"name":"bands"},"mark":{"type":"rect"},"encoding":{
"x":{"field":"f","type":"quantitative","scale":{"type":"log","domain":[2,500],"nice":false},
"axis":{"title":"Freq [mHz]","values":[2,3,4,5,6,7,8,9,10,20,30,40,50,60,70,80,90,100,200,300,400,500],"labelExpr":"datum.value == 10 ? '10' : (datum.value == 100 ? '100' : '')","tickSize":{"condition":{"test":"datum.value == 10 || datum.value == 100","value":47},"value":25},"labelPadding":6,"labelOverlap":false,"labelFlush":false,"titleY":165,"titleBaseline":"alphabetic"}},
"x2":{"field":"f2"},
"y":{"datum":-29,"type":"quantitative","scale":{"domain":[-30,25],"nice":false,"zero":false},
"axis":{"title":"Power [dB]","values":[-30,-25,-20,-15,-10,-5,0,5,10,15,20,25],"labelExpr":"datum.value % 10 == 0 ? datum.label : ''","tickSize":47,"labelPadding":8,"labelOverlap":false,"labelFlush":false,"titleX":-161,"titleBaseline":"alphabetic","titleAngle":-90}},
"y2":{"datum":23.5},
"color":{"field":"band","type":"nominal","scale":{"domain":["b1","b2","b3","b4","b5"],"range":["#e1e1e1","#ffb4b4","#b5dcdf","#dbdbb6","#b6b6fb"]},"legend":null}}},
{"data":{"name":"bar"},"mark":{"type":"rect","stroke":"white","strokeWidth":0.8},"encoding":{
"x":{"field":"f","type":"quantitative"},"x2":{"field":"f2"},
"y":{"datum":24.3,"type":"quantitative"},"y2":{"datum":23.57},
"color":{"field":"s","type":"nominal","scale":{"domain":["c1","c2","c3","c4","c5","c6","c7","c8","c9"],"range":["#c8c800","#dcb400","#f0a000","#ff8c00","#fa7864","#dc5078","#dc00b4","#b400dc","#0000f0"]},"legend":null}}},
{"data":{"name":"ref"},"mark":{"type":"line","color":"#b4ffb4","strokeWidth":6,"clip":true,"interpolate":"monotone"},"encoding":{
"x":{"field":"f","type":"quantitative"},"y":{"field":"p","type":"quantitative"}}},
{"data":{"name":"lines"},"mark":{"type":"line","strokeWidth":2.2,"clip":true,"interpolate":"monotone"},"encoding":{
"x":{"field":"f","type":"quantitative"},"y":{"field":"p","type":"quantitative"},
"color":{"field":"s","type":"nominal","scale":{"domain":["c1","c2","c3","c4","c5","c6","c7","c8","c9"],"range":["#c8c800","#dcb400","#f0a000","#ff8c00","#fa7864","#dc5078","#dc00b4","#b400dc","#0000f0"]},"legend":null}}},
{"data":{"name":"mean"},"mark":{"type":"line","color":"black","strokeWidth":3.8,"clip":true,"interpolate":"monotone"},"encoding":{
"x":{"field":"f","type":"quantitative"},"y":{"field":"p","type":"quantitative"}}},
{"data":{"values":[{"label":"Ending 2025−05−20 20:59:59"}]},"mark":{"type":"text","align":"left","baseline":"alphabetic","fontSize":48,"font":"Liberation Sans","color":"black"},"encoding":{"x":{"datum":2.301,"type":"quantitative"},"y":{"datum":-28.0,"type":"quantitative"},"text":{"field":"label"}}}
],
"resolve":{"scale":{"color":"independent"}}
}
